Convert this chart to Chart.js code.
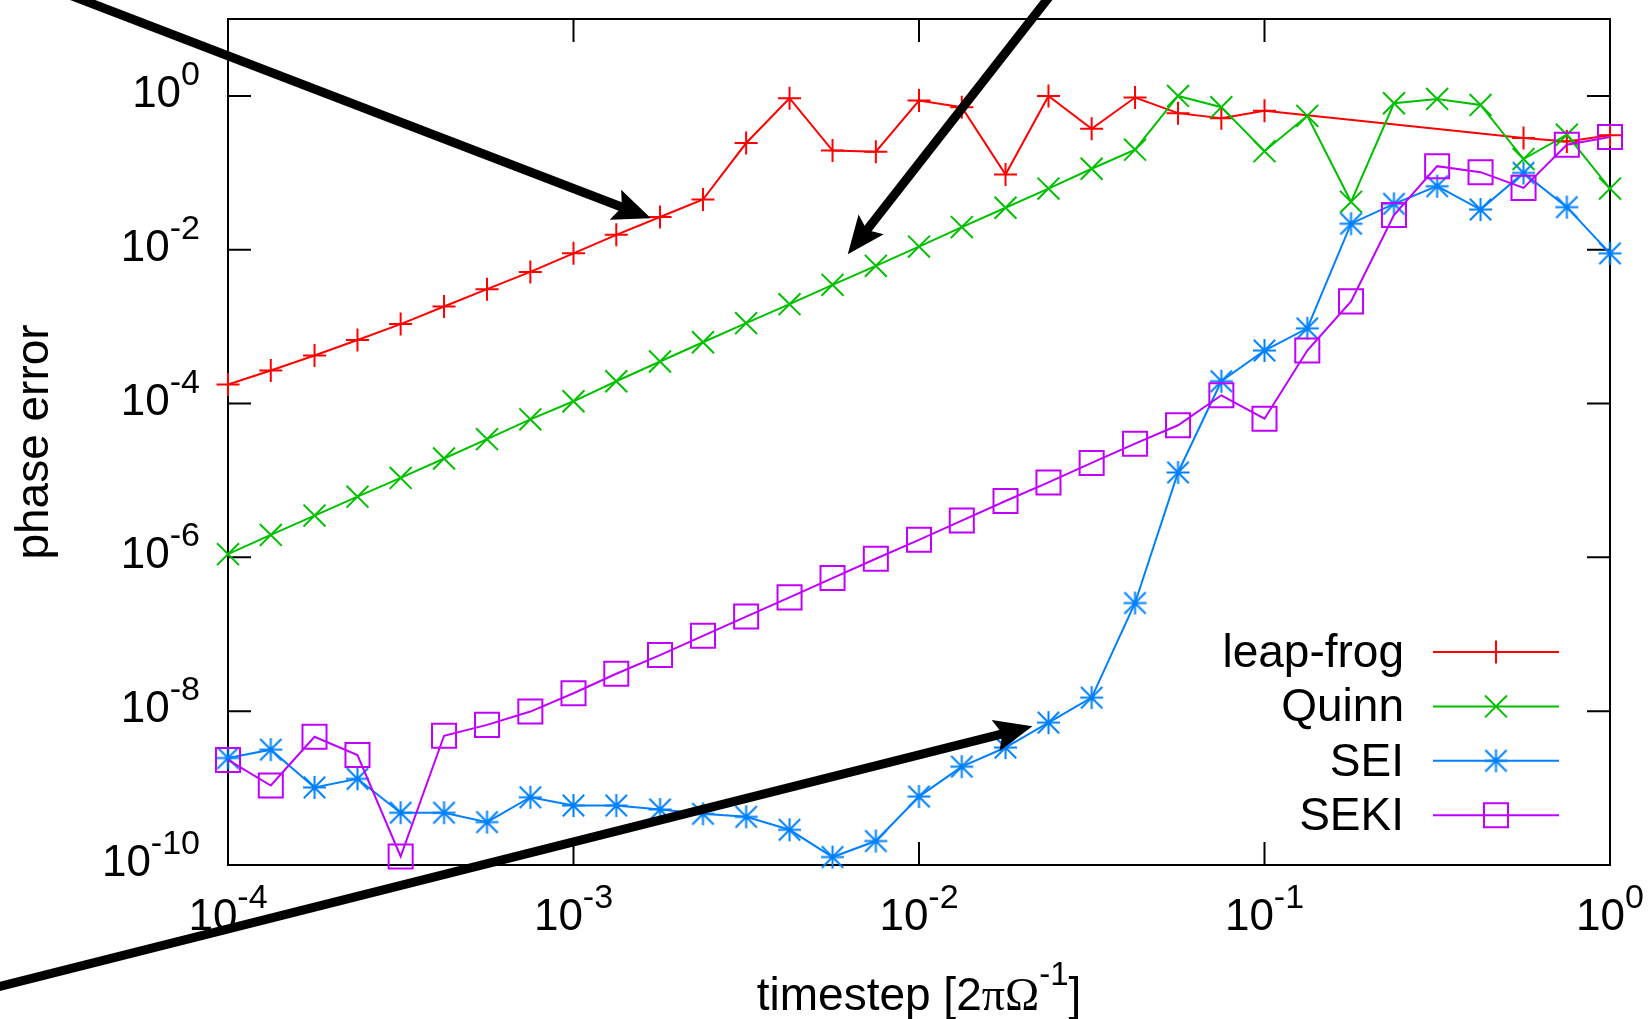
<!DOCTYPE html>
<html>
<head>
<meta charset="utf-8">
<script src="https://cdn.jsdelivr.net/npm/chart.js@4.4.0/dist/chart.umd.min.js"></script>
<style>
  html, body { margin: 0; padding: 0; background: #fff; }
  #wrap { width: 1648px; height: 1019px; }
</style>
</head>
<body>
<div id="wrap"><canvas id="graph" width="1648" height="1019"></canvas></div>
<script>
// timestep values, 8 per decade
const timesteps = [1e-4, 1.33e-4, 1.78e-4, 2.37e-4, 3.16e-4, 4.22e-4, 5.62e-4, 7.5e-4,
    1e-3, 1.33e-3, 1.78e-3, 2.37e-3, 3.16e-3, 4.22e-3, 5.62e-3, 7.5e-3,
    1e-2, 1.33e-2, 1.78e-2, 2.37e-2, 3.16e-2, 4.22e-2, 5.62e-2, 7.5e-2,
    0.1, 0.133, 0.178, 0.237, 0.316, 0.422, 0.562, 0.75, 1];

const leapFrog = [1.77e-4, 2.69e-4, 4.21e-4, 6.70e-4, 1.08e-3, 1.83e-3, 3.07e-3, 5.15e-3,
    8.97e-3, 1.56e-2, 2.66e-2, 4.50e-2, 0.244, 0.933, 0.195, 0.188,
    0.871, 0.714, 0.0948, 1.0, 0.374, 0.953, 0.597, 0.514,
    0.640, null, null, null, null, null, 0.283, 0.256, 0.307];

const quinn = [1.1e-6, 1.96e-6, 3.49e-6, 6.15e-6, 1.08e-5, 1.93e-5, 3.44e-5, 6.24e-5,
    1.07e-4, 1.95e-4, 3.52e-4, 6.27e-4, 1.11e-3, 1.96e-3, 3.50e-3, 6.17e-3,
    1.10e-2, 1.97e-2, 3.51e-2, 6.24e-2, 0.113, 0.200, 1.0, 0.714,
    0.191, 0.551, 0.0420, 0.803, 0.914, 0.764, 0.151, 0.313, 0.0624];

const sei = [2.46e-9, 3.16e-9, 1.02e-9, 1.32e-9, 4.78e-10, 4.78e-10, 3.61e-10, 7.60e-10,
    5.93e-10, 5.93e-10, 5.27e-10, 4.63e-10, 4.23e-10, 2.87e-10, 1.27e-10, 2.05e-10,
    7.76e-10, 1.90e-9, 3.37e-9, 7.11e-9, 1.50e-8, 2.55e-7, 1.27e-5, 1.95e-4,
    4.89e-4, 9.50e-4, 2.18e-2, 3.95e-2, 6.70e-2, 3.33e-2, 9.98e-2, 3.58e-2, 8.97e-3];

const seki = [2.32e-9, 1.08e-9, 4.65e-9, 2.69e-9, 1.29e-10, 4.79e-9, 6.64e-9, 9.89e-9,
    1.71e-8, 3.07e-8, 5.36e-8, 9.55e-8, 1.70e-7, 3.02e-7, 5.38e-7, 9.59e-7,
    1.69e-6, 3.01e-6, 5.41e-6, 9.42e-6, 1.69e-5, 3.01e-5, 5.22e-5, 1.28e-4,
    6.35e-5, 4.89e-4, 2.13e-3, 2.82e-2, 0.122, 0.102, 6.37e-2, 0.232, 0.292];

const seriesNames = ["leap-frog", "Quinn", "SEI", "SEKI"];

// decade ticks (exponents of 10)
const xTickExps = [-4, -3, -2, -1, 0];
const yTickExps = [-10, -8, -6, -4, -2, 0];

// annotation arrows, [from, to] in data units (timestep, phase error)
const arrows = [
    [[2.86e-5, 28.8], [1.675e-3, 2.56e-2]],
    [[2.55e-2, 28.8], [6.22e-3, 8.71e-3]],
    [[1.67e-5, 1.95e-12], [2.13e-2, 6.37e-9]]
];

const SANS = "'Liberation Sans', Arial, Helvetica, sans-serif";
const SERIF = "'Liberation Serif', 'Times New Roman', serif";

// gnuplot style asterisk: plus and x with equal reach
function makeStar(color, r, lw) {
    const c = document.createElement("canvas");
    const s = Math.ceil(2 * r + lw + 2);
    c.width = s;
    c.height = s;
    const g = c.getContext("2d");
    const m = s / 2;
    g.strokeStyle = color;
    g.lineWidth = lw;
    g.beginPath();
    g.moveTo(m, m - r); g.lineTo(m, m + r);
    g.moveTo(m - r, m); g.lineTo(m + r, m);
    const d = r * 0.93;
    g.moveTo(m - d, m - d); g.lineTo(m + d, m + d);
    g.moveTo(m - d, m + d); g.lineTo(m + d, m - d);
    g.stroke();
    return c;
}

function toPoints(values) {
    return timesteps.map((t, i) => ({ x: t, y: values[i] }));
}

function drawPower(ctx, exp, x, y, align) {
    const base = "10";
    const sup = String(exp);
    ctx.font = "44px " + SANS;
    const w1 = ctx.measureText(base).width;
    ctx.font = "34px " + SANS;
    const w2 = ctx.measureText(sup).width;
    let start = x;
    if (align === "right") start = x - w1 - w2;
    if (align === "center") start = x - (w1 + w2) / 2;
    ctx.textAlign = "left";
    ctx.textBaseline = "alphabetic";
    ctx.font = "44px " + SANS;
    ctx.fillText(base, start, y);
    ctx.font = "34px " + SANS;
    ctx.fillText(sup, start + w1, y - 22);
}

function drawArrow(ctx, x0, y0, x1, y1) {
    const a = Math.atan2(y1 - y0, x1 - x0);
    const cs = Math.cos(a), sn = Math.sin(a);
    const len = 38, half = 16;
    const bx = x1 - len * cs, by = y1 - len * sn;
    ctx.strokeStyle = "#000";
    ctx.fillStyle = "#000";
    ctx.lineWidth = 9;
    ctx.lineCap = "butt";
    ctx.beginPath();
    ctx.moveTo(x0, y0);
    ctx.lineTo(bx + 8 * cs, by + 8 * sn);
    ctx.stroke();
    ctx.beginPath();
    ctx.moveTo(x1, y1);
    ctx.lineTo(bx + half * sn, by - half * cs);
    ctx.lineTo(bx + 7 * cs, by + 7 * sn);
    ctx.lineTo(bx - half * sn, by + half * cs);
    ctx.closePath();
    ctx.fill();
}

const framePlugin = {
    id: "frame",
    beforeDraw(chart) {
        const ctx = chart.ctx;
        ctx.save();
        ctx.fillStyle = "#fff";
        ctx.fillRect(0, 0, chart.width, chart.height);
        ctx.restore();
    },
    beforeDatasetsDraw(chart) {
        const ctx = chart.ctx;
        const a = chart.chartArea;
        const xs = chart.scales.x, ys = chart.scales.y;
        const tl = 23;
        ctx.save();
        ctx.strokeStyle = "#000";
        ctx.lineWidth = 2;
        ctx.strokeRect(a.left, a.top, a.right - a.left, a.bottom - a.top);
        ctx.beginPath();
        xTickExps.forEach(e => {
            const x = xs.getPixelForValue(Math.pow(10, e));
            ctx.moveTo(x, a.bottom); ctx.lineTo(x, a.bottom - tl);
            ctx.moveTo(x, a.top); ctx.lineTo(x, a.top + tl);
        });
        yTickExps.forEach(e => {
            const y = ys.getPixelForValue(Math.pow(10, e));
            ctx.moveTo(a.left, y); ctx.lineTo(a.left + tl, y);
            ctx.moveTo(a.right, y); ctx.lineTo(a.right - tl, y);
        });
        ctx.stroke();

        // tick labels
        ctx.fillStyle = "#000";
        xTickExps.forEach(e => {
            drawPower(ctx, e, xs.getPixelForValue(Math.pow(10, e)), a.bottom + 65, "center");
        });
        yTickExps.forEach(e => {
            drawPower(ctx, e, a.left - 28, ys.getPixelForValue(Math.pow(10, e)) + 11, "right");
        });

        // y axis title
        ctx.save();
        ctx.translate(48, (a.top + a.bottom) / 2);
        ctx.rotate(-Math.PI / 2);
        ctx.font = "46px " + SANS;
        ctx.textAlign = "center";
        ctx.textBaseline = "alphabetic";
        ctx.fillText("phase error", 0, 0);
        ctx.restore();

        // x axis title: timestep [2πΩ^-1]
        const parts = [
            { t: "timestep [2", f: "46px " + SANS, dy: 0 },
            { t: "πΩ", f: "46px " + SERIF, dy: 0 },
            { t: "-1", f: "33px " + SANS, dy: -25 },
            { t: "]", f: "46px " + SANS, dy: 0 }
        ];
        let total = 0;
        parts.forEach(p => { ctx.font = p.f; p.w = ctx.measureText(p.t).width; total += p.w; });
        let x = (a.left + a.right) / 2 - total / 2;
        ctx.textAlign = "left";
        parts.forEach(p => {
            ctx.font = p.f;
            ctx.fillText(p.t, x, a.bottom + 145 + p.dy);
            x += p.w;
        });
        ctx.restore();
    },
    afterDatasetsDraw(chart) {
        const ctx = chart.ctx;
        const a = chart.chartArea;
        const xs = chart.scales.x, ys = chart.scales.y;
        ctx.save();

        // key, inside the plot at bottom right
        const textRight = a.right - 206;
        const lineL = a.right - 177, lineR = a.right - 51;
        const markX = a.right - 114;
        chart.data.datasets.forEach((ds, i) => {
            const y = a.bottom - 213 + i * 54.4;
            ctx.fillStyle = "#000";
            ctx.font = "46px " + SANS;
            ctx.textAlign = "right";
            ctx.textBaseline = "alphabetic";
            ctx.fillText(ds.label, textRight, y + 15);
            ctx.strokeStyle = ds.borderColor;
            ctx.lineWidth = ds.borderWidth;
            ctx.beginPath();
            ctx.moveTo(lineL, y); ctx.lineTo(lineR, y);
            ctx.stroke();
            ctx.fillStyle = "rgba(0,0,0,0)";
            ctx.lineWidth = ds.pointBorderWidth;
            Chart.helpers.drawPoint(ctx, {
                pointStyle: ds.pointStyle, radius: ds.pointRadius,
                rotation: 0, borderWidth: ds.pointBorderWidth
            }, markX, y);
        });

        arrows.forEach(([p0, p1]) => {
            drawArrow(ctx,
                xs.getPixelForValue(p0[0]), ys.getPixelForValue(p0[1]),
                xs.getPixelForValue(p1[0]), ys.getPixelForValue(p1[1]));
        });
        ctx.restore();
    }
};

const colors = ["#ff0000", "#00c000", "#0080ff", "#c000ff"];
const styles = ["cross", "crossRot", makeStar(colors[2], 11.5, 2), "rect"];
const radii = [11.5, 15.5, 11.5, 17];
const seriesValues = [leapFrog, quinn, sei, seki];

const datasets = seriesValues.map((vals, i) => ({
    label: seriesNames[i],
    data: toPoints(vals),
    borderColor: colors[i],
    backgroundColor: "rgba(0,0,0,0)",
    pointBorderColor: colors[i],
    pointBackgroundColor: "rgba(0,0,0,0)",
    pointStyle: styles[i],
    pointRadius: radii[i],
    pointBorderWidth: 2,
    borderWidth: 2,
    tension: 0,
    spanGaps: true,
    clip: false,
    order: 4 - i
}));

const graphCanvas = document.getElementById("graph");
new Chart(graphCanvas.getContext("2d"), {
    type: "line",
    data: { datasets: datasets },
    options: {
        responsive: false,
        animation: false,
        devicePixelRatio: 1,
        layout: { padding: { left: 228, right: 38, top: 15, bottom: 154 } },
        plugins: { legend: { display: false }, tooltip: { enabled: false } },
        events: [],
        scales: {
            x: { type: "logarithmic", min: 1e-4, max: 1, display: false },
            y: { type: "logarithmic", min: 1e-10, max: 10, display: false }
        }
    },
    plugins: [framePlugin]
});
</script>
</body>
</html>
